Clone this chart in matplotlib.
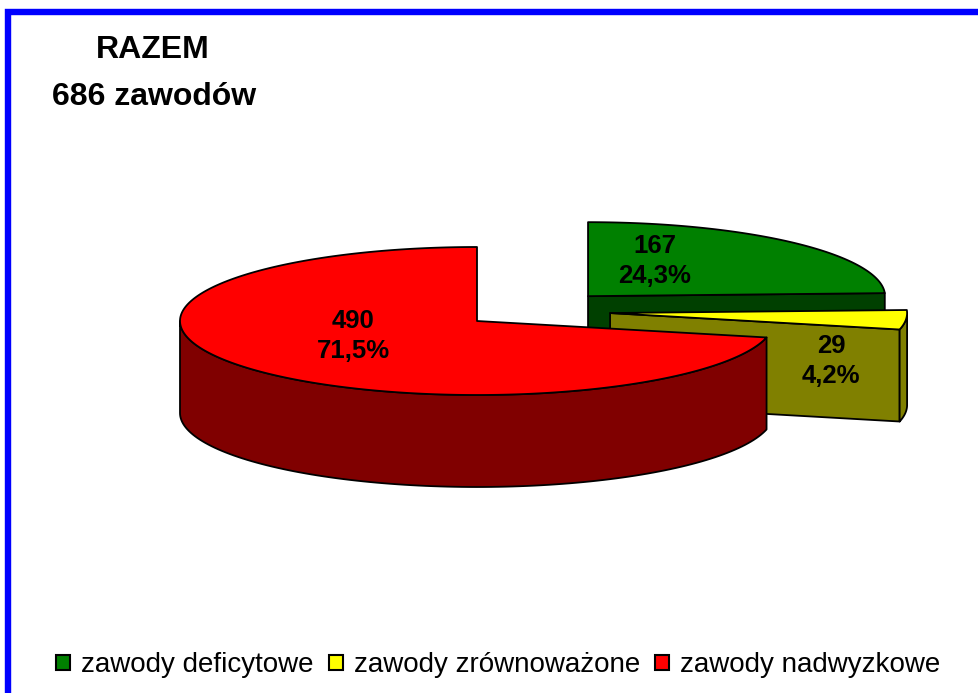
import numpy as np
import matplotlib
matplotlib.use("Agg")
import matplotlib.pyplot as plt
from matplotlib.patches import Polygon, Patch

plt.rcParams['font.family'] = ['Liberation Sans', 'DejaVu Sans']

# data
categories = ["zawody deficytowe", "zawody zrównoważone", "zawody nadwyzkowe"]
counts = [167, 29, 490]
percent_labels = ["24,3%", "4,2%", "71,5%"]
title_lines = ["RAZEM", "686 zawodów"]

# styling
top_colors = ["#008000", "#ffff00", "#ff0000"]
side_colors = ["#004000", "#808000", "#800000"]
explode = [0.54, 0.45, 0.0]
lift = [4, -11, 0]  # extra vertical shift of exploded slices (px)

# pie geometry in pixels (figure coordinates, y down)
cx, cy = 477, 321
rx, ry = 297, 74
depth = 92
label_pos = [(655, 261), (831, 361), (353, 336)]

fig = plt.figure(figsize=(9.79, 6.93), dpi=100)
ax = fig.add_axes([0, 0, 1, 1])
ax.set_xlim(0, 979)
ax.set_ylim(693, 0)
ax.axis('off')

# blue frame (only top and left visible)
ax.plot([8.5, 8.5, 990], [700, 12, 12], color="#0000ff", lw=4.6,
        solid_joinstyle='miter', solid_capstyle='butt')


def rim(c, t, dz=0.0):
    t = np.radians(t)
    return np.column_stack([c[0] + rx * np.cos(t), c[1] - ry * np.sin(t) + dz])


total = sum(counts)
angles = np.cumsum([0] + [v / total * 360 for v in counts])
slices = []
for i in range(len(counts)):
    a2 = 90 - angles[i]
    a1 = 90 - angles[i + 1]
    m = np.radians((a1 + a2) / 2)
    c = (cx + explode[i] * rx * np.cos(m), cy - explode[i] * ry * np.sin(m) + lift[i])
    faces = []
    # radial faces facing the viewer
    for a, n in ((a1, a1 - 90), (a2, a2 + 90)):
        if np.sin(np.radians(n)) < -1e-6:
            p = rim(c, np.array([a]))[0]
            faces.append(([c, p, (p[0], p[1] + depth), (c[0], c[1] + depth)], side_colors[i]))
    # outer curved side (front half only)
    for k in (-1, 0, 1):
        lo = max(a1, 180 + 360 * k)
        hi = min(a2, 360 + 360 * k)
        if hi > lo:
            t = np.linspace(lo, hi, 120)
            pts = np.vstack([rim(c, t), rim(c, t[::-1], depth)])
            faces.append((pts, side_colors[i]))
    # top face
    t = np.linspace(a1, a2, 300)
    faces.append((np.vstack([[c], rim(c, t)]), top_colors[i]))
    front = max(np.max(np.asarray(f[0])[:, 1]) for f in faces)
    slices.append((front, faces))

for _, faces in sorted(slices, key=lambda s: s[0]):
    for pts, col in faces:
        ax.add_patch(Polygon(pts, closed=True, facecolor=col, edgecolor='black',
                             lw=1.3, joinstyle='round'))

# data labels
for i, (x, y) in enumerate(label_pos):
    ax.text(x, y, f"{counts[i]}\n{percent_labels[i]}", ha='center', va='center',
            fontsize=18.5, fontweight='bold', linespacing=1.3)

# title
ax.text(153, 50, title_lines[0], ha='center', va='center', fontsize=23, fontweight='bold')
ax.text(154, 97, title_lines[1], ha='center', va='center', fontsize=23, fontweight='bold')

handles = [Patch(facecolor=col, edgecolor='black', lw=1.5) for col in top_colors]
fig.legend(handles, categories, loc='center', bbox_to_anchor=(0.509, 0.040), ncol=3,
           frameon=False, fontsize=20, handlelength=0.5, handleheight=0.5,
           handletextpad=0.4, columnspacing=0.55)

fig.savefig("out.png", dpi=100)
